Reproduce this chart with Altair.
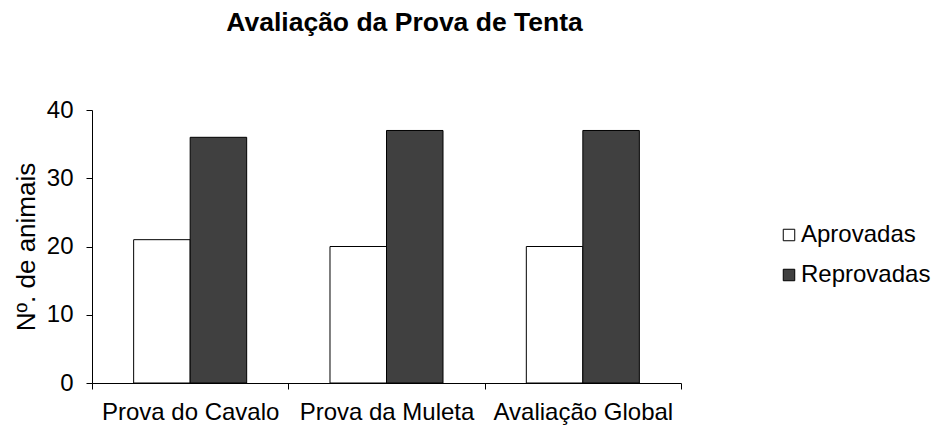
import altair as alt
import pandas as pd

categories = ["Prova do Cavalo", "Prova da Muleta", "Avaliação Global"]
series = ["Aprovadas", "Reprovadas"]
aprovadas = [21, 20, 20]
reprovadas = [36, 37, 37]
y_ticks = [0, 10, 20, 30, 40]
colors = ["white", "#404040"]

rows = []
for c, a, r in zip(categories, aprovadas, reprovadas):
    rows.append({"categoria": c, "serie": "Aprovadas", "valor": a})
    rows.append({"categoria": c, "serie": "Reprovadas", "valor": r})
df = pd.DataFrame(rows)

FONT = "Liberation Sans"

chart = alt.Chart(df).mark_bar(stroke="black", strokeWidth=1).encode(
    x=alt.X(
        "categoria:N",
        sort=categories,
        scale=alt.Scale(paddingInner=0, paddingOuter=0),
        axis=alt.Axis(
            title=None, labelAngle=0, tickBand="extent", tickSize=6,
            labelPadding=11, labelFontSize=24,
        ),
    ),
    xOffset=alt.XOffset(
        "serie:N", sort=series,
        scale=alt.Scale(paddingInner=0, paddingOuter=0.737),
    ),
    y=alt.Y(
        "valor:Q",
        scale=alt.Scale(domain=[0, 40]),
        axis=alt.Axis(
            values=y_ticks, title="Nº. de animais", grid=False, tickSize=6,
            labelPadding=13, labelFontSize=24, titleFontSize=26,
            titleFontWeight="normal", titlePadding=7,
        ),
    ),
    fill=alt.Fill(
        "serie:N",
        scale=alt.Scale(domain=series, range=colors),
        legend=alt.Legend(
            title=None, orient="none", legendX=685, legendY=113,
            symbolType="square", symbolSize=132, symbolStrokeColor="black",
            symbolStrokeWidth=1, labelFontSize=24, labelOffset=0,
            rowPadding=16, padding=0, labelFont=FONT, labelColor="black",
        ),
    ),
).properties(
    width=589,
    height=273,
    title=alt.TitleParams(
        "Avaliação da Prova de Tenta", font=FONT, fontSize=26.5,
        fontWeight="bold", color="black", anchor="middle", dx=18, offset=62,
    ),
    autosize=alt.AutoSizeParams(type="none"),
    padding={"left": 92, "top": 110, "right": 255, "bottom": 43},
).configure_view(stroke=None).configure_axis(
    domainColor="black", tickColor="black", labelColor="black",
    titleColor="black", labelFont=FONT, titleFont=FONT,
    domainWidth=1, tickWidth=1,
)

chart.save("out.html", embed_options={"renderer": "svg", "actions": False})
